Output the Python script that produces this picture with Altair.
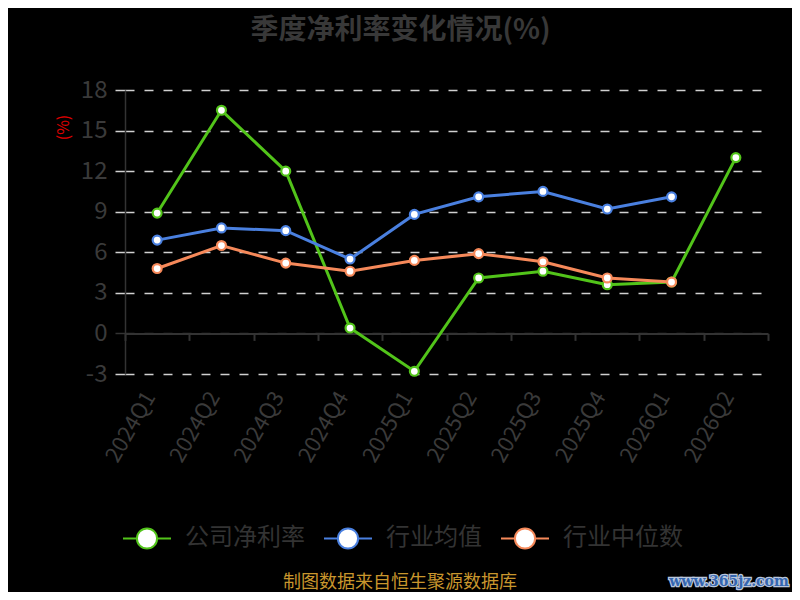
import altair as alt
import pandas as pd

quarters = ["2024Q1", "2024Q2", "2024Q3", "2024Q4", "2025Q1",
            "2025Q2", "2025Q3", "2025Q4", "2026Q1", "2026Q2"]
company = [8.9, 16.5, 12.0, 0.4, -2.8, 4.1, 4.6, 3.6, 3.8, 13.0]
ind_mean = [6.9, 7.8, 7.6, 5.5, 8.8, 10.1, 10.5, 9.2, 10.1, None]
ind_median = [4.8, 6.5, 5.2, 4.6, 5.4, 5.9, 5.3, 4.1, 3.8, None]
series_names = ["公司净利率", "行业均值", "行业中位数"]
series_colors = ["#52c41a", "#4a80e0", "#f6895a"]
y_ticks = [-3, 0, 3, 6, 9, 12, 15, 18]

rows = []
for name, vals in zip(series_names, [company, ind_mean, ind_median]):
    for q, v in zip(quarters, vals):
        if v is not None:
            rows.append({"季度": q, "系列": name, "值": v})
df = pd.DataFrame(rows)

FONT = "Noto Sans CJK SC"
PLOT_W, PLOT_H = 643, 284

color = alt.Color(
    "系列:N",
    scale=alt.Scale(domain=series_names, range=series_colors),
    sort=series_names,
    legend=alt.Legend(
        title=None, orient="none", legendX=-3, legendY=423,
        direction="horizontal",
        symbolType="M-1,0H-0.42 M0.42,0H1 M-0.42,0A0.42,0.42 0 1,0 0.42,0A0.42,0.42 0 1,0 -0.42,0",
        symbolSize=2304, symbolStrokeWidth=2, symbolFillColor="#ffffff",
        labelFontSize=24, labelColor="#333333", labelFont=FONT,
        labelOffset=13, columnPadding=15,
    ),
)

y = alt.Y(
    "值:Q",
    scale=alt.Scale(domain=[-3, 18], nice=False, zero=False),
    axis=alt.Axis(
        values=y_ticks, title="(%)", titleColor="#e00000", titleFontSize=16,
        titleFont=FONT, titleFontWeight="normal", titleAngle=-90,
        titleX=-62, titleY=37, titleAlign="center", titleBaseline="middle",
        labelExpr="'' + datum.value",
        labelFontSize=24, labelColor="#3a3a3a", labelFont=FONT, labelPadding=8,
        domainColor="#333333", domainWidth=1.5,
        tickSize=10, tickWidth=1.5,
        tickColor={"condition": {"test": "datum.value === 0", "value": "#333333"}, "value": "#d0d0d0"},
        grid=True, gridDash=[9, 10], gridWidth=1.5,
        gridColor={"condition": {"test": "datum.value === 0", "value": "#333333"}, "value": "#d0d0d0"},
    ),
)

x_labels = alt.X(
    "季度:N", sort=quarters, scale=alt.Scale(domain=quarters, paddingInner=0, paddingOuter=0),
    axis=alt.Axis(
        title=None, domain=False, ticks=False, grid=False, orient="bottom",
        labelAngle=-60, labelAlign="right", labelBaseline="middle", labelOffset=-7,
        labelFontSize=22, labelColor="#3a3a3a", labelFont=FONT, labelPadding=19,
    ),
)
x_ticks = alt.X(
    "季度:N", sort=quarters, scale=alt.Scale(domain=quarters, paddingInner=0, paddingOuter=0),
    axis=alt.Axis(
        title=None, labels=False, grid=False, domain=True, orient="bottom",
        domainColor="#333333", domainWidth=2, tickColor="#333333", tickWidth=2,
        tickSize=7, tickBand="extent", offset=-40.6,
    ),
)

lines = alt.Chart(df).mark_line(strokeWidth=3).encode(x=x_labels, y=y, color=color)
points = alt.Chart(df).mark_point(
    filled=False, fill="#ffffff", fillOpacity=1, size=80, strokeWidth=2.2, opacity=1
).encode(x=x_ticks, y=y, color=color)

footer = alt.Chart(pd.DataFrame({"t": ["制图数据来自恒生聚源数据库"]})).mark_text(
    font=FONT, fontSize=18, color="#c8962d", align="center", baseline="middle"
).encode(x=alt.value(275), y=alt.value(493), text="t:N")

wm_df = pd.DataFrame({"t": ["www.365jz.com"]})
watermark_outline = alt.Chart(wm_df).mark_text(
    font="DejaVu Serif", fontSize=14, fontWeight="bold", color="#3566b0",
    stroke="#b9c6dc", strokeWidth=2.5, align="center", baseline="middle"
).encode(x=alt.value(604), y=alt.value(492), text="t:N")
watermark = alt.Chart(wm_df).mark_text(
    font="DejaVu Serif", fontSize=14, fontWeight="bold", color="#3566b0",
    align="center", baseline="middle"
).encode(x=alt.value(604), y=alt.value(492), text="t:N")

chart = alt.layer(lines, points, footer, watermark_outline, watermark).resolve_axis(
    x="independent"
).properties(
    width=PLOT_W, height=PLOT_H,
    autosize=alt.AutoSizeParams(type="none"),
    padding={"left": 117, "top": 82, "right": 24, "bottom": 218},
    background="#000000",
    title=alt.Title(
        "季度净利率变化情况(%)", fontSize=28, fontWeight="bold", color="#383838",
        font=FONT, anchor="middle", dx=-46, offset=33,
    ),
).configure_view(stroke=None)

chart.save("out.html", embed_options={"renderer": "svg", "actions": False})
